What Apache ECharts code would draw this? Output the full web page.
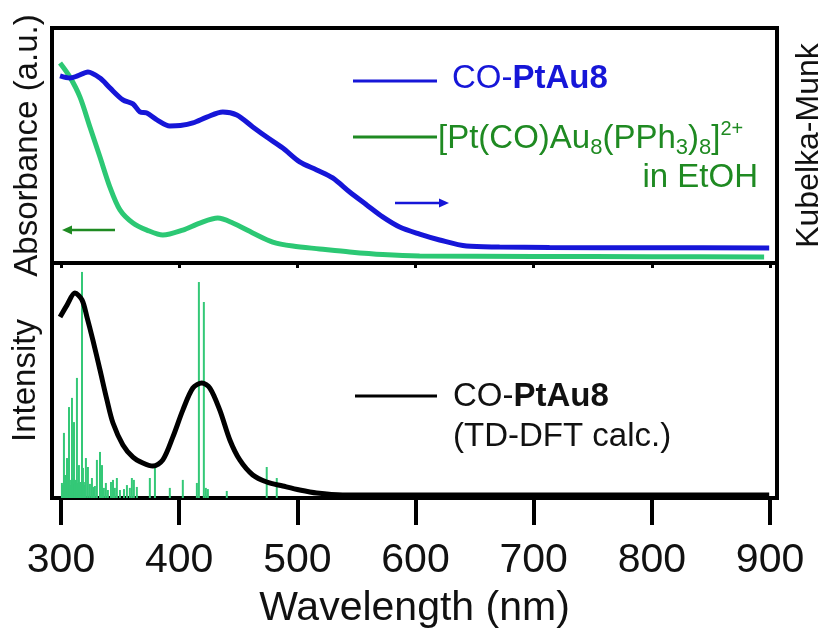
<!DOCTYPE html>
<html>
<head>
<meta charset="utf-8">
<script src="https://cdn.jsdelivr.net/npm/echarts@6/dist/echarts.min.js"></script>
<style>
  html, body { margin: 0; padding: 0; background: #fff; }
  #chart { width: 820px; height: 632px; }
</style>
</head>
<body>
<div id="chart"></div>
<script>
// wavelength axis
const xMin = 292.4;
const xMax = 905.9;
const tickValues = [300, 400, 500, 600, 700, 800, 900];

// top panel: solution absorbance (left axis, a.u.)
const absWl = [299.2, 307.6, 316.1, 324.5, 333.0, 341.4, 349.9, 360.9, 372.7, 386.2, 403.1, 417.5, 432.7, 445.4, 462.3, 479.2, 496.1, 518.9, 544.3, 572.2, 603.5, 700, 800, 895];
const absVal = [85.1, 79.1, 70.6, 57.9, 45.1, 32.3, 22.6, 17.0, 14.0, 11.9, 14.0, 17.0, 19.1, 17.0, 12.8, 8.9, 7.2, 6.0, 4.7, 3.6, 3.0, 2.8, 2.7, 2.6];

// top panel: solid Kubelka-Munk (right axis)
const kmWl = [299.2, 307.6, 314.0, 322.8, 333.0, 341.4, 352.4, 360.9, 366.8, 372.7, 381.2, 392.1, 401.0, 411.6, 423.4, 436.9, 448.8, 462.3, 474.1, 487.7, 502.0, 516.4, 529.9, 544.3, 558.7, 572.2, 586.6, 603.5, 620.4, 643.2, 671.1, 713.4, 800, 899.3];
const kmVal = [79.6, 78.7, 79.6, 81.3, 78.7, 74.5, 69.4, 67.7, 64.3, 63.8, 60.9, 58.3, 58.5, 59.6, 62.1, 64.3, 63.0, 57.9, 53.6, 48.9, 43.0, 39.6, 36.2, 30.2, 24.7, 19.6, 15.3, 12.3, 9.8, 7.2, 6.8, 6.6, 6.5, 6.4];

// bottom panel: TD-DFT spectrum
const calcWl = [299.2, 305.1, 311.8, 317.8, 322.0, 327.0, 333.0, 338.9, 344.0, 352.4, 360.9, 369.3, 377.8, 386.2, 394.7, 403.1, 411.6, 419.2, 426.0, 434.4, 442.9, 451.3, 462.3, 474.1, 487.7, 502.0, 516.4, 538.4, 700, 899.3];
const calcVal = [77.0, 82.1, 87.2, 84.3, 77.0, 67.2, 54.5, 41.7, 31.9, 22.6, 17.4, 14.9, 13.6, 16.2, 26.0, 37.4, 46.8, 48.9, 46.8, 37.4, 24.7, 16.2, 9.8, 6.8, 5.1, 3.4, 2.1, 1.3, 1.3, 1.3];

// bottom panel: oscillator strengths (sticks)
const stickWl = [300.8, 301.7, 302.5, 303.4, 304.2, 305.1, 305.9, 306.8, 307.6, 308.5, 309.3, 310.1, 311.0, 311.8, 312.7, 313.5, 314.4, 315.2, 316.1, 317.8, 318.6, 319.4, 320.3, 321.1, 322.8, 324.5, 326.2, 327.5, 328.7, 330.4, 333.0, 334.7, 336.3, 338.0, 339.7, 342.3, 344.0, 345.6, 347.3, 349.9, 353.3, 355.8, 358.3, 360.0, 361.7, 364.2, 375.2, 379.5, 392.1, 403.1, 415.0, 416.7, 420.9, 422.6, 424.3, 440.3, 474.1, 482.6];
const stickVal = [6.4, 5.5, 27.7, 9.8, 6.0, 17.0, 11.9, 38.7, 7.7, 5.5, 42.6, 8.5, 32.3, 6.0, 7.7, 51.1, 6.4, 14.0, 6.8, 96.2, 12.8, 6.8, 5.5, 17.0, 13.2, 6.0, 8.5, 4.7, 5.1, 16.2, 19.6, 14.0, 4.3, 6.4, 3.4, 6.8, 7.7, 4.3, 8.5, 3.4, 3.8, 5.5, 4.3, 8.5, 7.7, 4.7, 8.5, 12.8, 4.3, 7.7, 6.4, 91.9, 83.4, 4.3, 3.8, 3.0, 13.2, 8.5];

const pair = (xs, ys) => xs.map((x, i) => [x, ys[i]]);

const font = 'Liberation Sans, Arial, sans-serif';
const blue = '#1616d8';
const green = '#2cc874';
const darkGreen = '#1f8a22';

const chart = echarts.init(document.getElementById('chart'));

const hiddenAxis = {
  axisLine: { show: false },
  axisTick: { show: false },
  axisLabel: { show: false },
  splitLine: { show: false }
};

const option = {
  backgroundColor: '#fff',
  animation: false,
  grid: [
    { left: 52, top: 28, width: 725, height: 235, show: true, borderColor: '#000', borderWidth: 4, outerBoundsMode: 'none' },
    { left: 52, top: 263, width: 725, height: 235, show: true, borderColor: '#000', borderWidth: 4, outerBoundsMode: 'none' }
  ],
  xAxis: [
    Object.assign({ type: 'value', gridIndex: 0, min: xMin, max: xMax }, hiddenAxis),
    {
      type: 'value', gridIndex: 1, min: xMin, max: xMax, position: 'bottom',
      axisLine: { show: false },
      axisTick: { show: true, customValues: tickValues, length: 27, lineStyle: { color: '#000', width: 4 } },
      axisLabel: { customValues: tickValues, fontSize: 41, fontFamily: font, color: '#111', margin: 42 },
      splitLine: { show: false },
      name: 'Wavelength (nm)', nameLocation: 'middle', nameGap: 90,
      nameTextStyle: { fontSize: 41, fontFamily: font, color: '#111' }
    },
    {
      type: 'value', gridIndex: 1, min: xMin, max: xMax, position: 'top',
      axisLine: { show: false },
      axisTick: { show: true, inside: true, customValues: tickValues, length: 5, lineStyle: { color: '#000', width: 3 } },
      axisLabel: { show: false },
      splitLine: { show: false }
    }
  ],
  yAxis: [
    Object.assign({
      type: 'value', gridIndex: 0, min: 0, max: 100, position: 'left',
      name: 'Absorbance (a.u.)', nameLocation: 'middle', nameRotate: 90, nameGap: 8,
      nameTextStyle: { fontSize: 33, fontFamily: font, color: '#111' }
    }, hiddenAxis),
    Object.assign({
      type: 'value', gridIndex: 0, min: 0, max: 100, position: 'right',
      name: 'Kubelka-Munk', nameLocation: 'middle', nameRotate: 90, nameGap: 16,
      nameTextStyle: { fontSize: 32, fontFamily: font, color: '#111' }
    }, hiddenAxis),
    Object.assign({
      type: 'value', gridIndex: 1, min: 0, max: 100, position: 'left',
      name: 'Intensity', nameLocation: 'middle', nameRotate: 90, nameGap: 10,
      nameTextStyle: { fontSize: 33, fontFamily: font, color: '#111' }
    }, hiddenAxis)
  ],
  series: [
    {
      name: 'abs', type: 'line', xAxisIndex: 0, yAxisIndex: 0,
      data: pair(absWl, absVal), smooth: 0.3, showSymbol: false, z: 3,
      lineStyle: { color: green, width: 5 }
    },
    {
      name: 'km', type: 'line', xAxisIndex: 0, yAxisIndex: 1,
      data: pair(kmWl, kmVal), smooth: 0.3, showSymbol: false, z: 4,
      lineStyle: { color: blue, width: 5 }
    },
    {
      name: 'sticks', type: 'bar', xAxisIndex: 1, yAxisIndex: 2,
      data: pair(stickWl, stickVal), barWidth: 2, z: 2,
      itemStyle: { color: '#34c877' }
    },
    {
      name: 'calc', type: 'line', xAxisIndex: 1, yAxisIndex: 2,
      data: pair(calcWl, calcVal), smooth: 0.3, showSymbol: false, z: 4,
      lineStyle: { color: '#000', width: 5 }
    }
  ],
  graphic: [
    // top legend
    { type: 'line', shape: { x1: 353, y1: 81, x2: 437, y2: 81 }, style: { stroke: blue, lineWidth: 3 } },
    {
      type: 'text', x: 452, y: 79,
      style: {
        text: 'CO-{b|PtAu8}', fill: blue, fontSize: 33, fontFamily: font, verticalAlign: 'middle',
        rich: { b: { fontSize: 33, fontFamily: font, fontWeight: 'bold', fill: blue } }
      }
    },
    { type: 'line', shape: { x1: 353, y1: 137, x2: 437, y2: 137 }, style: { stroke: darkGreen, lineWidth: 3 } },
    {
      type: 'text', x: 438, y: 139,
      style: {
        text: '[Pt(CO)Au{s|8}(PPh{s|3}){s|8}]{p|2+}', fill: darkGreen, fontSize: 33, fontFamily: font,
        lineHeight: 40, verticalAlign: 'middle',
        rich: {
          s: { fontSize: 22, lineHeight: 22, verticalAlign: 'bottom', fontFamily: font, fill: darkGreen },
          p: { fontSize: 20, lineHeight: 27, verticalAlign: 'top', fontFamily: font, fill: darkGreen }
        }
      }
    },
    {
      type: 'text', x: 758, y: 178,
      style: { text: 'in EtOH', fill: darkGreen, fontSize: 33, fontFamily: font, align: 'right', verticalAlign: 'middle' }
    },
    // arrows
    { type: 'line', shape: { x1: 395, y1: 203, x2: 442, y2: 203 }, style: { stroke: blue, lineWidth: 2.5 } },
    { type: 'polygon', shape: { points: [[449, 203], [439, 198.5], [439, 207.5]] }, style: { fill: blue } },
    { type: 'line', shape: { x1: 115, y1: 230, x2: 69, y2: 230 }, style: { stroke: darkGreen, lineWidth: 2.5 } },
    { type: 'polygon', shape: { points: [[62, 230], [72, 225.5], [72, 234.5]] }, style: { fill: darkGreen } },
    // bottom legend
    { type: 'line', shape: { x1: 355, y1: 396, x2: 437, y2: 396 }, style: { stroke: '#000', lineWidth: 3 } },
    {
      type: 'text', x: 453, y: 397,
      style: {
        text: 'CO-{b|PtAu8}', fill: '#111', fontSize: 33, fontFamily: font, verticalAlign: 'middle',
        rich: { b: { fontSize: 33, fontFamily: font, fontWeight: 'bold', fill: '#111' } }
      }
    },
    {
      type: 'text', x: 453, y: 437,
      style: { text: '(TD-DFT calc.)', fill: '#111', fontSize: 33, fontFamily: font, verticalAlign: 'middle' }
    }
  ]
};

chart.setOption(option);
</script>
</body>
</html>
